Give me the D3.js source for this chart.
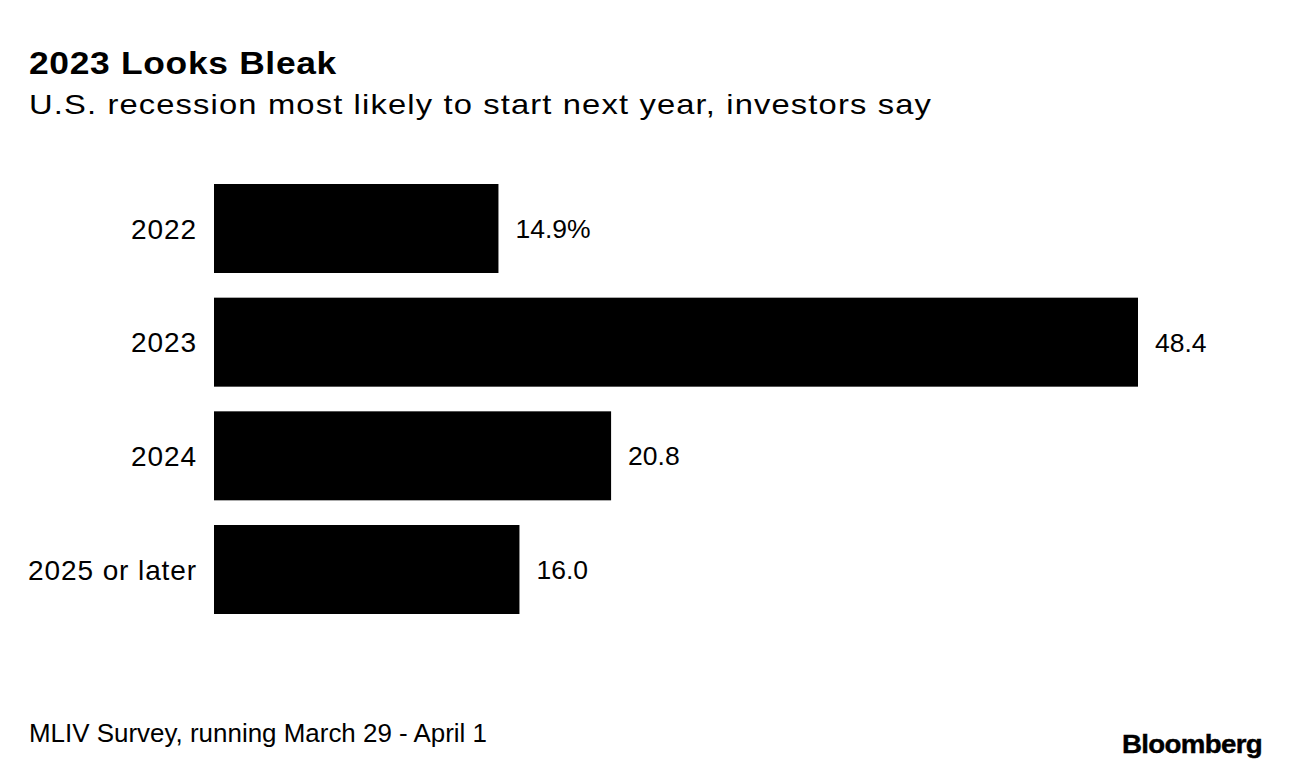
<!DOCTYPE html>
<html>
<head>
<meta charset="utf-8">
<script src="https://cdn.jsdelivr.net/npm/d3@7"></script>
<style>
  html, body { margin: 0; padding: 0; background: #fff; }
  svg { display: block; font-family: "Liberation Sans", Arial, Helvetica, sans-serif; }
</style>
</head>
<body>
<svg id="chart" width="1289" height="772"></svg>
<script>
const categories = ["2022", "2023", "2024", "2025 or later"];
const values = [14.9, 48.4, 20.8, 16.0];
const valueLabels = ["14.9%", "48.4", "20.8", "16.0"];

const svg = d3.select("#chart");

const x = d3.scaleLinear().domain([0, 48.4]).range([214, 1138]);
const y = d3.scaleBand().domain(categories).range([184, 614]).paddingInner(0.217).paddingOuter(0);

// Title & subtitle
svg.append("text").attr("x", 29).attr("y", 74)
  .attr("font-size", 31).attr("font-weight", "bold").attr("fill", "#000")
  .attr("letter-spacing", 0.6)
  .attr("textLength", 308).attr("lengthAdjust", "spacingAndGlyphs")
  .text("2023 Looks Bleak");
svg.append("text").attr("x", 29).attr("y", 114)
  .attr("font-size", 28.5).attr("fill", "#000")
  .attr("letter-spacing", 1)
  .attr("textLength", 903).attr("lengthAdjust", "spacingAndGlyphs")
  .text("U.S. recession most likely to start next year, investors say");

// Bars
svg.selectAll("rect.bar").data(categories).join("rect")
  .attr("class", "bar")
  .attr("x", x(0))
  .attr("y", d => y(d))
  .attr("width", (d, i) => x(values[i]) - x(0))
  .attr("height", y.bandwidth())
  .attr("fill", "#000");

// Category labels
svg.selectAll("text.cat").data(categories).join("text")
  .attr("class", "cat")
  .attr("x", 197)
  .attr("y", d => y(d) + y.bandwidth() / 2)
  .attr("dy", "0.36em")
  .attr("text-anchor", "end")
  .attr("font-size", 28)
  .attr("letter-spacing", 0.9)
  .attr("fill", "#000")
  .text(d => d);

// Value labels
svg.selectAll("text.val").data(categories).join("text")
  .attr("class", "val")
  .attr("x", (d, i) => x(values[i]) + 17)
  .attr("y", d => y(d) + y.bandwidth() / 2)
  .attr("dy", "0.36em")
  .attr("font-size", 26.5)
  .attr("fill", "#000")
  .text((d, i) => valueLabels[i]);

// Footer
svg.append("text").attr("x", 29).attr("y", 742)
  .attr("font-size", 25).attr("fill", "#000")
  .attr("textLength", 458).attr("lengthAdjust", "spacingAndGlyphs")
  .text("MLIV Survey, running March 29 - April 1");
svg.append("text").attr("x", 1122).attr("y", 753)
  .attr("font-size", 25).attr("font-weight", "bold").attr("fill", "#000")
  .attr("letter-spacing", -0.6)
  .attr("stroke", "#000").attr("stroke-width", 0.4)
  .attr("textLength", 140).attr("lengthAdjust", "spacingAndGlyphs")
  .text("Bloomberg");
</script>
</body>
</html>
